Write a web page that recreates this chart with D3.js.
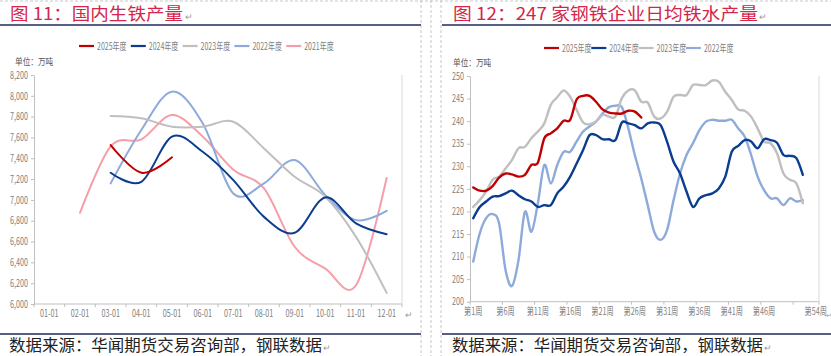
<!DOCTYPE html>
<html><head><meta charset="utf-8">
<script src="https://cdn.jsdelivr.net/npm/d3@7"></script>
<style>body{margin:0;background:#fff}svg{display:block}</style>
</head><body>
<svg id="c" width="831" height="356"></svg>
<script>
// ---------- data ----------
const months = ['01-01','02-01','03-01','04-01','05-01','06-01','07-01','08-01','09-01','10-01','11-01','12-01'];
const yearNamesL = ['2025年度','2024年度','2023年度','2022年度','2021年度'];
const pig2025 = [null,null,7527,7261,7409,null,null,null,null,null,null,null];
const pig2024 = [null,null,7261,7174,7607,7463,7190,6837,6684,7024,6774,6671];
const pig2023 = [null,null,7806,7784,7703,7703,7751,7495,7222,7030,6645,6107];
const pig2022 = [null,null,7159,7671,8040,7736,7062,7159,7383,7046,6806,6895];
const pig2021 = [null,6876,7515,7582,7815,7610,7290,7110,6550,6340,6180,7210];
const pigTicks = [6000,6200,6400,6600,6800,7000,7200,7400,7600,7800,8000,8200];

const weeks = d3.range(1,55).map(w => '第' + w + '周');
const weekLabels = ['第1周','第6周','第11周','第16周','第21周','第26周','第31周','第36周','第41周','第46周','第54周'];
const yearNamesR = ['2025年度','2024年度','2023年度','2022年度'];
const hm2025 = [225.3,224.6,224.6,225.6,227.5,228.4,228.2,227.7,228.1,230.3,230.8,236.2,237.3,238.4,240.1,240.3,244.8,245.6,245.6,244.3,242.6,241.9,241.7,241.7,242.3,242.1,240.8];
const hm2024 = [218.5,221.0,222.2,223.3,223.4,224.0,224.6,223.6,222.7,222.2,221.0,221.4,221.4,224.0,225.5,227.7,230.6,233.6,236.9,236.9,236.0,236.0,235.8,239.7,239.5,239.1,238.4,239.5,239.7,239.1,235.4,231.0,228.4,224.4,221.0,222.9,223.6,224.0,225.1,227.7,233.2,234.5,235.8,235.5,234.0,236.0,235.8,235.2,232.5,232.3,231.8,228.1];
const hm2023 = [221.0,222.5,224.4,227.0,227.7,229.5,231.4,234.0,234.3,236.2,237.7,239.5,243.6,245.3,246.8,245.4,242.5,239.7,239.3,239.9,241.4,241.0,241.0,245.1,246.8,246.8,244.3,244.1,241.0,240.6,242.1,245.4,245.8,245.8,248.0,248.0,248.0,249.0,248.7,246.5,244.7,242.6,242.3,241.0,238.4,235.5,235.1,232.9,228.4,227.0,226.2,221.8];
const hm2022 = [208.9,215.1,218.5,219.4,217.4,207.0,203.5,209.2,219.9,215.5,221.8,230.3,226.2,230.3,233.2,233.2,235.5,237.7,238.8,239.9,241.7,243.1,243.4,243.1,238.4,232.5,227.3,221.4,215.5,213.7,215.9,222.5,228.4,232.5,235.1,238.0,239.9,240.3,240.1,240.1,240.3,238.4,236.6,232.5,227.7,224.7,222.9,222.9,221.4,222.9,222.2,222.5];
const hmTicks = [200,205,210,215,220,225,230,235,240,245,250];

// ---------- styles ----------
const colors = ['#c00000','#0a3d8f','#bfbfbf','#8eaadb','#f59ea8'];
const axisColor = '#bfbfbf', labelColor = '#7f7f7f';
const cjk = '"Noto Sans CJK SC","Noto Sans",sans-serif';

const svg = d3.select('#c');

// page decoration
svg.append('line').attr('x1',0).attr('x2',831).attr('y1',1).attr('y2',1)
  .attr('stroke','#c8c8c8').attr('stroke-dasharray','3,2');
[421,431,441].forEach(x => svg.append('line').attr('x1',x).attr('x2',x).attr('y1',0).attr('y2',356)
  .attr('stroke','#c8c8c8').attr('stroke-dasharray','3,2'));
[[0,421],[442,831]].forEach(([a,b]) => {
  svg.append('line').attr('x1',a).attr('x2',b).attr('y1',25).attr('y2',25).attr('stroke','#1f2a5c').attr('stroke-width',1.5);
  svg.append('line').attr('x1',a).attr('x2',b).attr('y1',334).attr('y2',334).attr('stroke','#1f2a5c').attr('stroke-width',1.5);
});

function ret(x,y,fs){ svg.append('text').attr('x',x).attr('y',y).text('↵').attr('font-size',fs||9).attr('fill','#9a9a9a').attr('font-family',cjk); }

// titles
svg.append('text').attr('x',10).attr('y',20).text('图 11：国内生铁产量')
  .attr('font-family',cjk).attr('font-size',17).attr('fill','#d4264a')
  .attr('textLength',173).attr('lengthAdjust','spacingAndGlyphs');
ret(185,20);
svg.append('text').attr('x',453).attr('y',20).text('图 12：247 家钢铁企业日均铁水产量')
  .attr('font-family',cjk).attr('font-size',17).attr('fill','#d4264a')
  .attr('textLength',305).attr('lengthAdjust','spacingAndGlyphs');
ret(759,20);

// sources
svg.append('text').attr('x',9).attr('y',351).text('数据来源：华闻期货交易咨询部，钢联数据')
  .attr('font-family',cjk).attr('font-size',16).attr('fill','#222')
  .attr('textLength',313).attr('lengthAdjust','spacingAndGlyphs');
ret(323,351);
svg.append('text').attr('x',452).attr('y',351).text('数据来源：华闻期货交易咨询部，钢联数据')
  .attr('font-family',cjk).attr('font-size',16).attr('fill','#222')
  .attr('textLength',311).attr('lengthAdjust','spacingAndGlyphs');
ret(764,351);

function compress(sel, f){
  sel.each(function(){ const w = this.getComputedTextLength(); d3.select(this).attr('textLength', w*f).attr('lengthAdjust','spacingAndGlyphs'); });
}

function legend(names, x0, step, y){
  names.forEach((n,i) => {
    const g = svg.append('g').attr('transform',`translate(${x0+i*step},${y})`);
    g.append('line').attr('x1',0).attr('x2',15).attr('stroke',colors[i]).attr('stroke-width',2.2);
    const t = g.append('text').attr('x',18).attr('y',3.5).text(n).attr('font-family',cjk).attr('font-size',10).attr('fill',labelColor);
    compress(t,0.7);
  });
}

function unit(x,y){
  const t = svg.append('text').attr('x',x).attr('y',y).text('单位：万吨').attr('font-family',cjk).attr('font-size',9).attr('fill','#555');
  compress(t,0.85);
}

function chart(cfg){
  const {cats, series, ticks, fmt, xr, yr, labelsShown, tickBounds, sw} = cfg;
  const x = d3.scaleBand().domain(cats).range(xr).padding(0);
  const y = d3.scaleLinear().domain([ticks[0], ticks[ticks.length-1]]).range(yr);
  svg.append('line').attr('x1',xr[1]).attr('x2',xr[1]).attr('y1',yr[1]).attr('y2',yr[0]).attr('stroke','#d9d9d9');
  const ya = svg.append('g').attr('transform',`translate(${xr[0]},0)`)
    .call(d3.axisLeft(y).tickValues(ticks).tickFormat(fmt).tickSize(3).tickSizeOuter(0));
  ya.select('.domain').attr('stroke',axisColor);
  ya.selectAll('line').attr('stroke',axisColor);
  ya.selectAll('text').attr('fill',labelColor).attr('font-size',10).attr('font-family',cjk);
  compress(ya.selectAll('text'),0.72);
  const xa = svg.append('g').attr('transform',`translate(0,${yr[0]})`)
    .call(d3.axisBottom(x).tickValues(labelsShown).tickSize(0).tickPadding(6));
  xa.select('.domain').attr('stroke',axisColor).attr('d',`M${xr[0]},0H${xr[1]}`);
  xa.selectAll('text').attr('fill',labelColor).attr('font-size',10).attr('font-family',cjk);
  compress(xa.selectAll('text'),0.72);
  tickBounds.forEach(i => {
    const px = i >= cats.length ? xr[1] : x(cats[i]);
    xa.append('line').attr('x1',px).attr('x2',px).attr('y1',0).attr('y2',3).attr('stroke',axisColor);
  });
  const line = d3.line().defined(d => d.v != null).x(d => x(d.c) + x.bandwidth()/2).y(d => y(d.v))
    .curve(d3.curveCardinal.tension(0));
  for (let i = series.length-1; i >= 0; i--) {
    const data = series[i].map((v,j) => ({c: cats[j], v}));
    svg.append('path').datum(data.filter(d => d.v != null)).attr('d', line).attr('fill','none')
      .attr('stroke', colors[i]).attr('stroke-width', sw).attr('stroke-linejoin','round').attr('stroke-linecap','round');
  }
}

// left chart
legend(yearNamesL, 79, 51.8, 46);
unit(15,65);
chart({cats: months, series: [pig2025,pig2024,pig2023,pig2022,pig2021], ticks: pigTicks,
  fmt: d3.format(','), xr: [34,402], yr: [304,75], labelsShown: months,
  tickBounds: d3.range(0,13), sw: 2});
ret(405,318);

// right chart
legend(yearNamesR, 544, 47.3, 48);
unit(453,66);
chart({cats: weeks, series: [hm2025,hm2024,hm2023,hm2022], ticks: hmTicks,
  fmt: d3.format('d'), xr: [470,819], yr: [301.7,76], labelsShown: weekLabels,
  tickBounds: [0,5,10,15,20,25,30,35,40,45,50,54], sw: 2.4});
ret(825.5,318,7);
</script>
</body></html>
